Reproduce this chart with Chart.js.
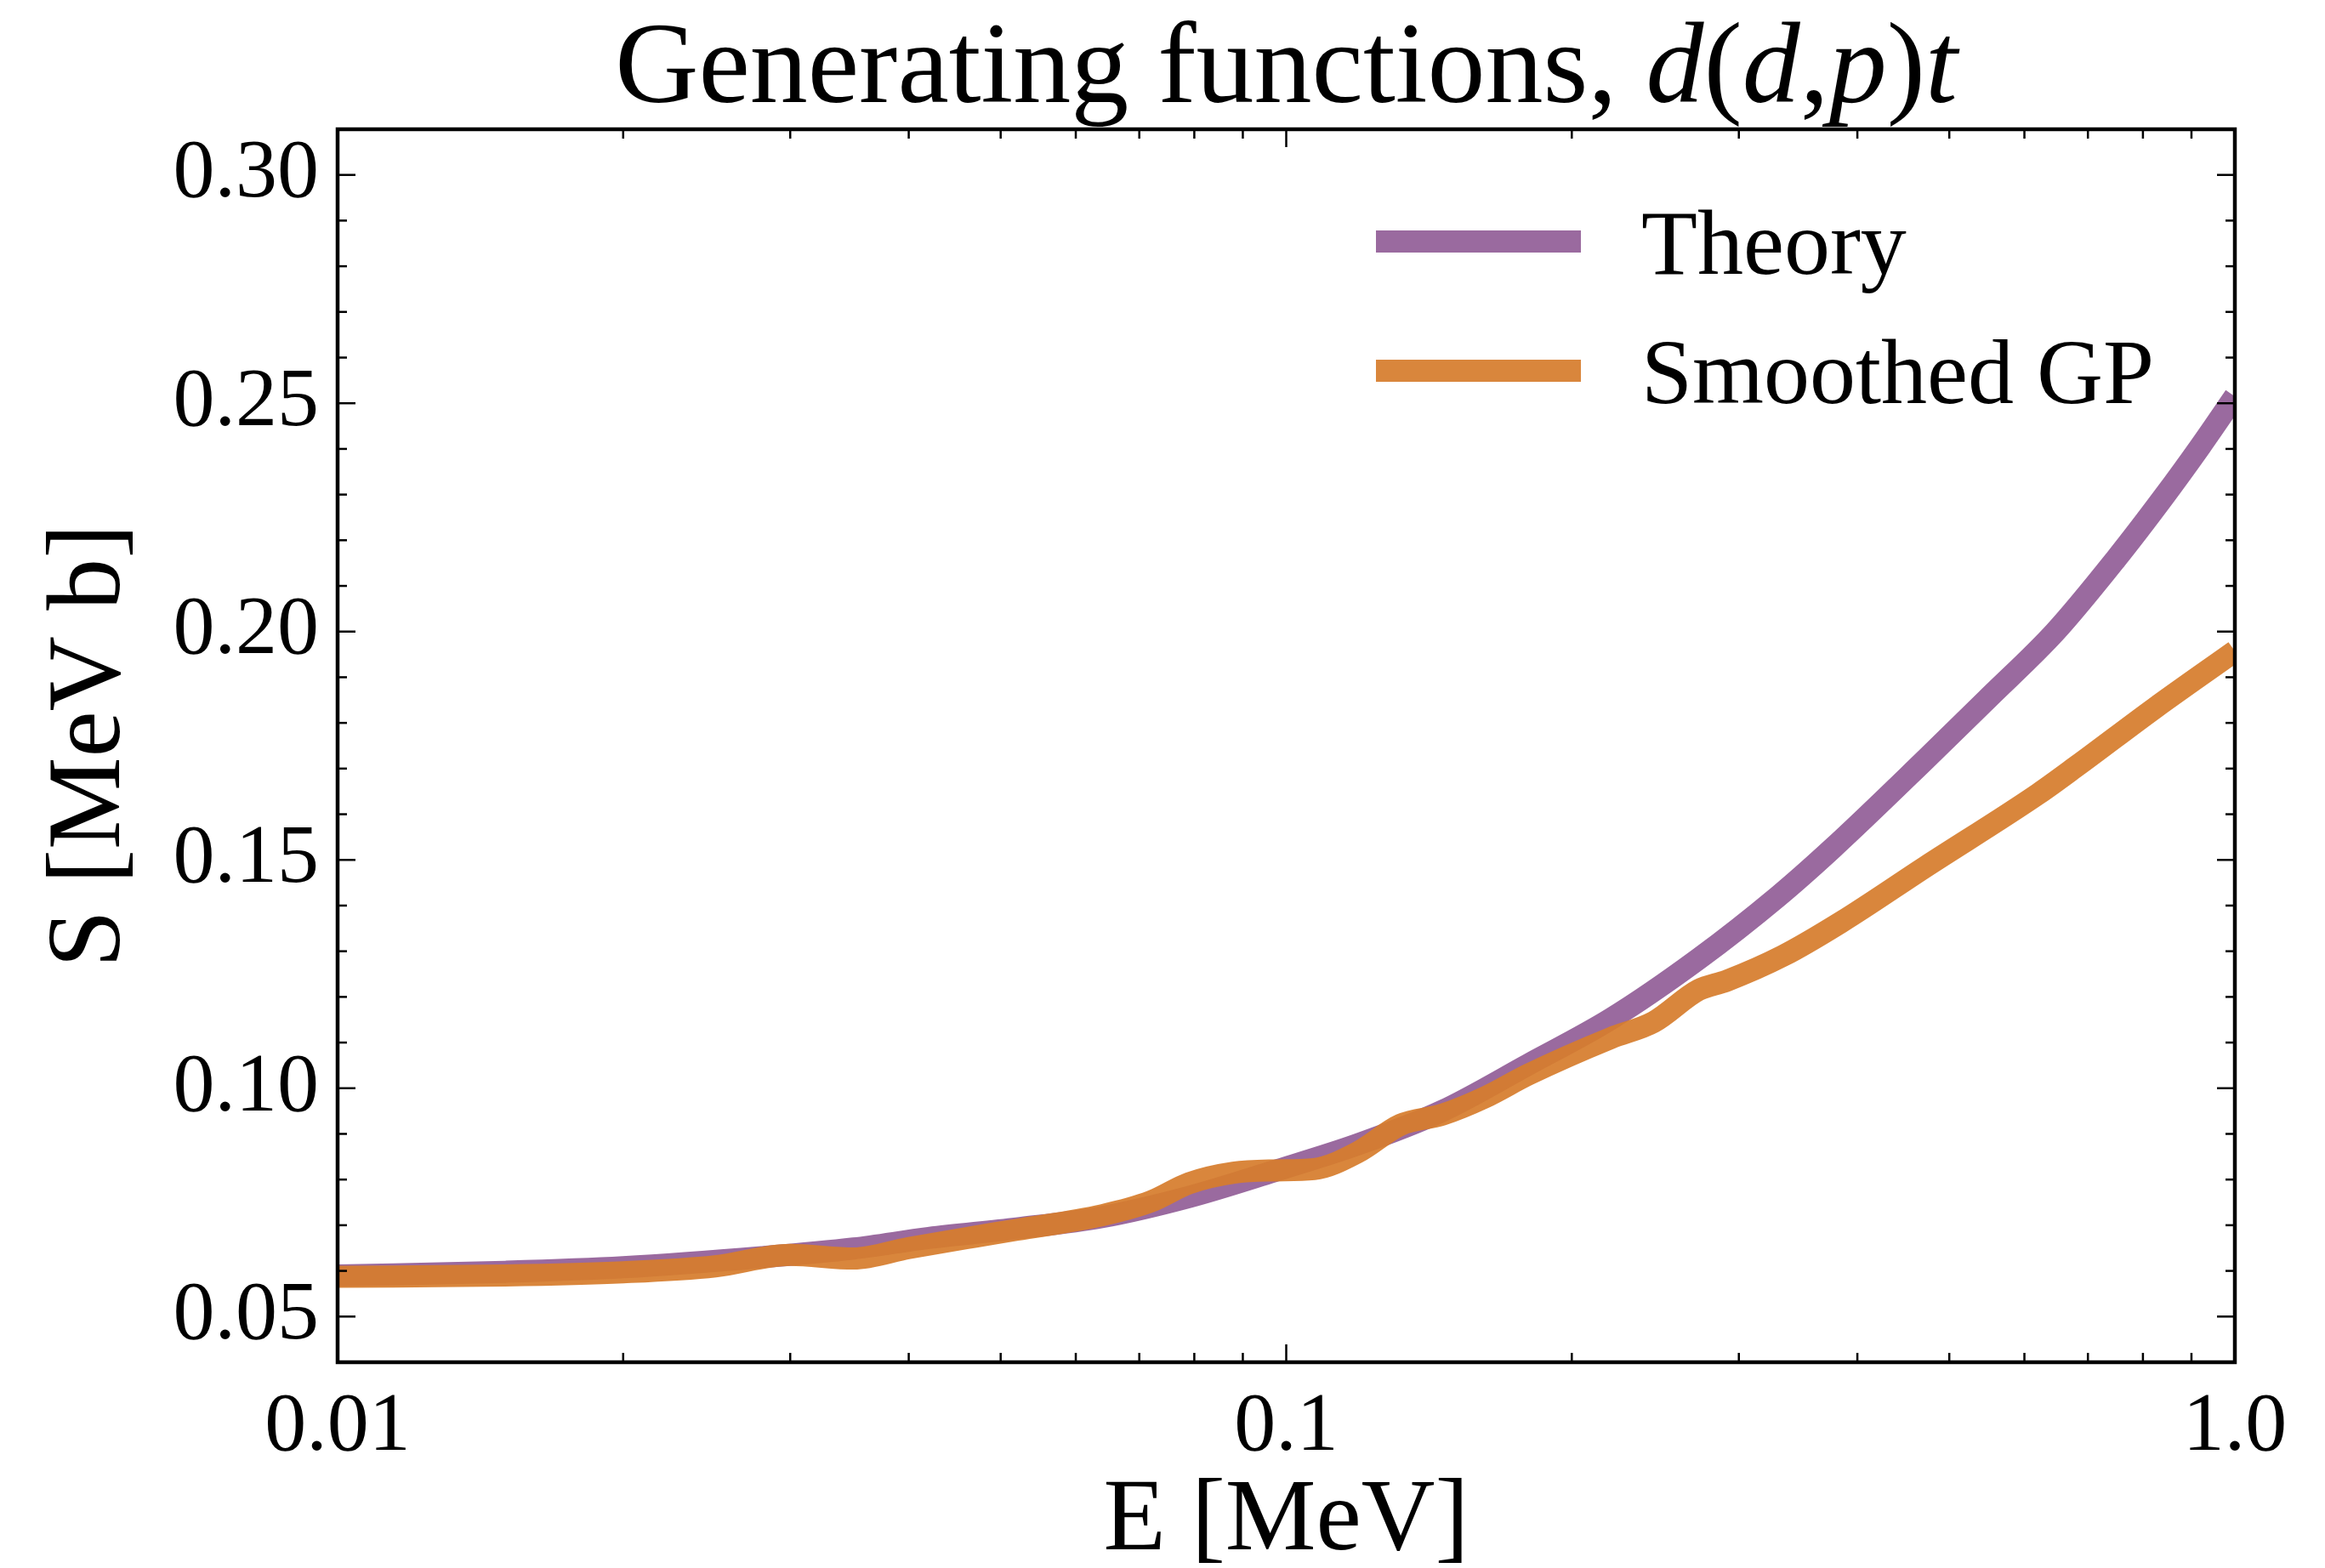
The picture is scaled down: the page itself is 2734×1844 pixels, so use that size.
<!DOCTYPE html>
<html>
<head>
<meta charset="utf-8">
<title>Generating functions</title>
<script src="https://cdn.jsdelivr.net/npm/chart.js@4.4.1/dist/chart.umd.min.js"></script>
<style>
  html, body { margin: 0; padding: 0; background: #fff; }
</style>
</head>
<body>
<canvas id="myChart" width="2734" height="1844"></canvas>
<script>
// Data
var theoryE = [0.01, 0.015, 0.02, 0.028, 0.035, 0.042, 0.052, 0.064, 0.079, 0.097, 0.119, 0.146, 0.18, 0.22, 0.272, 0.33, 0.376, 0.472, 0.55, 0.647, 0.75, 0.84, 0.92, 1.0];
var theoryS = [0.0590, 0.0598, 0.0608, 0.0630, 0.0649, 0.0672, 0.0693, 0.0718, 0.0762, 0.0818, 0.0877, 0.0950, 0.1052, 0.1152, 0.1283, 0.1420, 0.1524, 0.1720, 0.1855, 0.2000, 0.2160, 0.2293, 0.2406, 0.2515];

var gpE = [0.01, 0.015, 0.02, 0.025, 0.03, 0.035, 0.04, 0.047, 0.052, 0.064, 0.072, 0.079, 0.088, 0.097, 0.107, 0.119, 0.132, 0.146, 0.162, 0.18, 0.22, 0.244, 0.272, 0.291, 0.334, 0.384, 0.472, 0.621, 0.683, 0.824, 1.0];
var gpS = [0.0587, 0.0590, 0.0597, 0.0610, 0.0635, 0.0627, 0.0650, 0.0675, 0.0690, 0.0722, 0.0752, 0.0792, 0.0815, 0.0820, 0.0823, 0.0860, 0.0920, 0.0942, 0.0980, 0.1030, 0.1110, 0.1145, 0.1215, 0.1235, 0.1290, 0.1363, 0.1485, 0.1645, 0.1707, 0.1833, 0.1957];

var xTicks = [0.01, 0.1, 1.0];
var xMinor = [0.02, 0.03, 0.04, 0.05, 0.06, 0.07, 0.08, 0.09, 0.2, 0.3, 0.4, 0.5, 0.6, 0.7, 0.8, 0.9];
var yTicks = [0.05, 0.10, 0.15, 0.20, 0.25, 0.30];
var yMinor = [0.04, 0.06, 0.07, 0.08, 0.09, 0.11, 0.12, 0.13, 0.14, 0.16, 0.17, 0.18, 0.19, 0.21, 0.22, 0.23, 0.24, 0.26, 0.27, 0.28, 0.29, 0.31];

var serif = "'Liberation Serif', 'DejaVu Serif', serif";

function toPoints(xs, ys){
    var pts = [];
    for (var i = 0; i < xs.length; i++) pts.push({x: xs[i], y: ys[i]});
    return pts;
}

// frame, inward ticks, legend and title drawn on top
var decorPlugin = {
    id: 'decor',
    afterDraw: function(chart){
        var ctx = chart.ctx;
        var a = chart.chartArea;
        var xs = chart.scales.x, ys = chart.scales.y;

        function seg(x1, y1, x2, y2){
            ctx.beginPath(); ctx.moveTo(x1, y1); ctx.lineTo(x2, y2); ctx.stroke();
        }

        ctx.save();
        ctx.strokeStyle = '#000';
        ctx.lineWidth = 2.5;
        xTicks.forEach(function(v){
            var p = xs.getPixelForValue(v);
            seg(p, a.bottom, p, a.bottom - 21); seg(p, a.top, p, a.top + 21);
        });
        xMinor.forEach(function(v){
            var p = xs.getPixelForValue(v);
            seg(p, a.bottom, p, a.bottom - 11); seg(p, a.top, p, a.top + 11);
        });
        yTicks.forEach(function(v){
            var p = ys.getPixelForValue(v);
            seg(a.left, p, a.left + 21, p); seg(a.right, p, a.right - 21, p);
        });
        yMinor.forEach(function(v){
            var p = ys.getPixelForValue(v);
            seg(a.left, p, a.left + 11, p); seg(a.right, p, a.right - 11, p);
        });
        ctx.lineWidth = 4.5;
        ctx.strokeRect(a.left, a.top, a.right - a.left, a.bottom - a.top);

        // legend
        var rows = [284, 436];
        ctx.font = '108px ' + serif;
        ctx.textBaseline = 'alphabetic';
        ctx.textAlign = 'left';
        ctx.fillStyle = '#000';
        for (var i = 0; i < chart.data.datasets.length; i++){
            var ds = chart.data.datasets[i];
            ctx.strokeStyle = ds.borderColor;
            ctx.lineWidth = ds.borderWidth;
            seg(1618, rows[i], 1859, rows[i]);
            ctx.fillText(ds.label, 1930, rows[i] + 38);
        }

        // title with math italics
        var parts = [
            ['Generating functions, ', false], ['d', true], ['(', false], ['d', true],
            [',', false], ['p', true], [')', false], ['t', true]
        ];
        var total = 0;
        parts.forEach(function(p){
            ctx.font = (p[1] ? 'italic ' : '') + '136px ' + serif;
            p.w = ctx.measureText(p[0]).width;
            total += p.w;
        });
        var x = (a.left + a.right) / 2 - total / 2;
        parts.forEach(function(p){
            ctx.font = (p[1] ? 'italic ' : '') + '136px ' + serif;
            ctx.fillText(p[0], x, 120);
            x += p.w;
        });
        ctx.restore();
    }
};

var ctx = document.getElementById('myChart').getContext('2d');
var chart = new Chart(ctx, {
    type: 'line',
    data: {
        datasets: [{
            label: 'Theory',
            data: toPoints(theoryE, theoryS),
            borderColor: '#9a6a9f',
            borderWidth: 26,
            order: 1
        }, {
            label: 'Smoothed GP',
            data: toPoints(gpE, gpS),
            borderColor: 'rgba(214,125,45,0.93)',
            borderWidth: 26,
            order: 0
        }]
    },
    options: {
        responsive: false,
        animation: false,
        devicePixelRatio: 1,
        layout: { padding: { top: 152, right: 106, left: 0, bottom: 0 } },
        elements: {
            point: { radius: 0 },
            line: { cubicInterpolationMode: 'monotone', borderCapStyle: 'butt', borderJoinStyle: 'round', fill: false }
        },
        plugins: {
            legend: { display: false },
            title: { display: false },
            tooltip: { enabled: false }
        },
        scales: {
            x: {
                type: 'logarithmic',
                position: 'bottom',
                min: 0.01,
                max: 1.0,
                afterBuildTicks: function(scale){
                    scale.ticks = xTicks.map(function(v){ return {value: v}; });
                },
                afterFit: function(scale){ scale.height = 242; },
                grid: { display: false, drawTicks: false },
                border: { display: false },
                ticks: {
                    autoSkip: false,
                    maxRotation: 0,
                    padding: 18,
                    color: '#000',
                    font: { family: serif, size: 98 },
                    callback: function(v){ return v === 1 ? '1.0' : String(v); }
                },
                title: {
                    display: true,
                    text: 'E [MeV]',
                    color: '#000',
                    font: { family: serif, size: 120, lineHeight: 0.9 },
                    padding: 0
                }
            },
            y: {
                type: 'linear',
                min: 0.04,
                max: 0.31,
                afterBuildTicks: function(scale){
                    scale.ticks = yTicks.map(function(v){ return {value: v}; });
                },
                afterFit: function(scale){ scale.width = 397; },
                grid: { display: false, drawTicks: false },
                border: { display: false },
                ticks: {
                    padding: 22,
                    color: '#000',
                    font: { family: serif, size: 98 },
                    callback: function(v){ return v.toFixed(2); }
                },
                title: {
                    display: true,
                    text: 'S [MeV b]',
                    color: '#000',
                    font: { family: serif, size: 122, lineHeight: 1 },
                    padding: { top: 47, bottom: 0 }
                }
            }
        }
    },
    plugins: [decorPlugin]
});
</script>
</body>
</html>
